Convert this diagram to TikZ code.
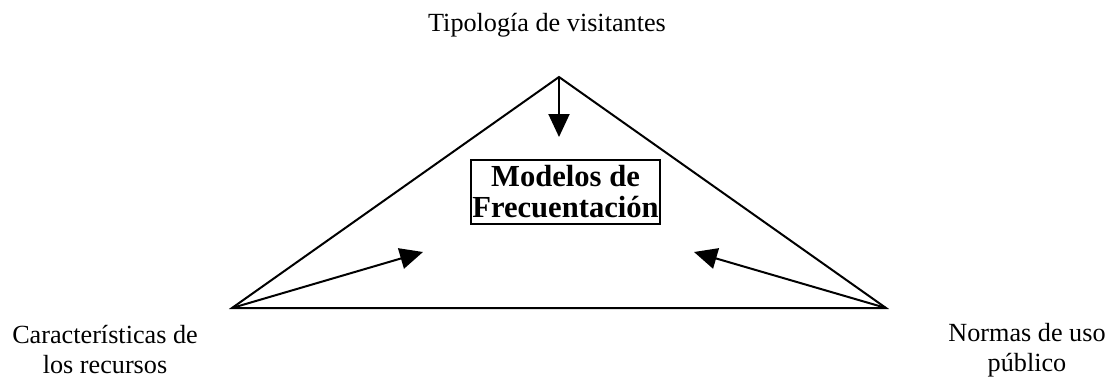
\documentclass[tikz,border=0pt]{standalone}
\usepackage{fontspec}
\setmainfont{Liberation Serif}
\usetikzlibrary{arrows.meta}

\begin{document}
\begin{tikzpicture}[x=0.5pt, y=-0.5pt]
\tikzstyle{lbl}=[align=center, inner sep=0pt, font=\fontsize{13.1}{15}\selectfont]
\tikzstyle{main}=[rectangle, draw=black, line width=1pt, minimum width=94.5pt, minimum height=32pt, inner sep=0pt, align=center, font=\fontsize{15.3}{15.5}\selectfont\bfseries]
\tikzstyle{connect}=[-{Triangle[length=11.5pt, width=10.5pt]}, line width=1pt]
  \useasboundingbox (0,0) rectangle (1113,380);
  \coordinate (top) at (559,77);
  \coordinate (left) at (232,308);
  \coordinate (right) at (886,308);
  \coordinate (ttip) at (559,137);
  \coordinate (ltip) at (423,252);
  \coordinate (rtip) at (694,252);
  \draw[line width=1pt, line join=miter] (top) -- (left) -- (right) -- cycle;
  \node[main] (m) at (565.5,192) {Modelos de\\Frecuentación};
  \path (top) edge [connect] (ttip);
  \path (left) edge [connect] (ltip);
  \path (right) edge [connect] (rtip);
  \node[lbl] (tv) at (547,25) {Tipología de visitantes};
  \node[lbl] (cr) at (105,350) {Características de\\los recursos};
  \node[lbl] (nu) at (1027,350) {Normas de uso\\público};
\end{tikzpicture}
\end{document}
